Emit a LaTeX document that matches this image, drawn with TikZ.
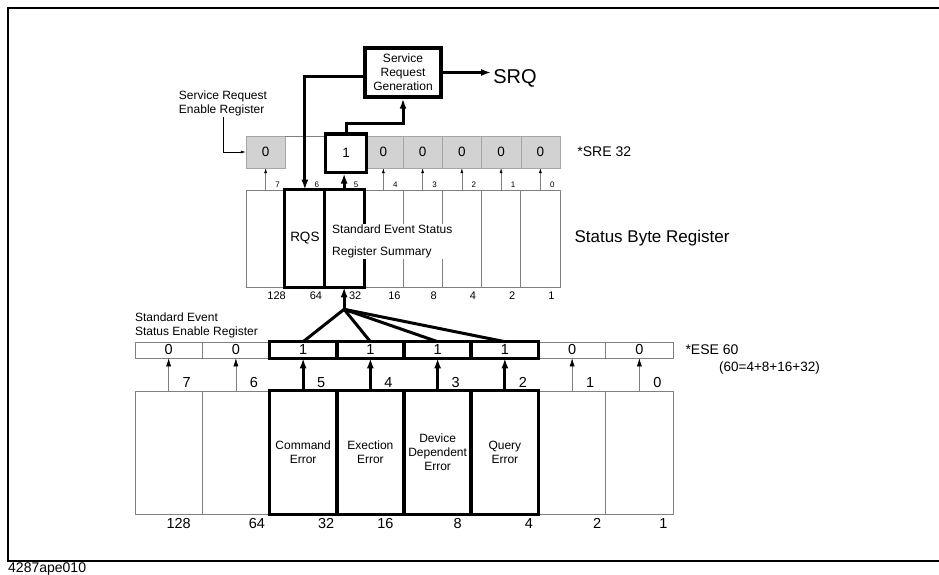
\documentclass[tikz,border=0pt]{standalone}
\usepackage{fontspec}
\setmainfont{Liberation Sans}
\usetikzlibrary{arrows.meta}

\begin{document}
\begin{tikzpicture}[x=1pt,y=-1pt,
    cellline/.style={draw=gray,line width=0.6pt},
    heavy/.style={line width=3pt},
    bigtip/.style={-{Latex[length=10pt,width=7pt]}},
    thintip/.style={-{Latex[length=8pt,width=5pt,color=black]}},
    tinytip/.style={-{Latex[length=5pt,width=3pt,color=black]}},
    lbl/.style={font=\fontsize{12}{14}\selectfont,align=center,inner sep=1pt}]
  \useasboundingbox (0,0) rectangle (939,575);
  % frame
  \draw[line width=1.6pt] (939,8) -- (8,8) -- (8,561) -- (939,561);
  \node[anchor=west,inner sep=0pt,font=\fontsize{14}{14}\selectfont] (figno) at (8,569) {4287ape010};

  % status byte register
  \foreach \b in {7,...,0}{
    \pgfmathsetmacro{\cx}{246+39.25*(7.5-\b)}
    \node[cellline,minimum width=39.25pt,minimum height=97pt,inner sep=0pt] (sb\b) at (\cx,238.5) {};
  }
  \draw[heavy] (sb6.north west) rectangle (sb5.south east);
  \draw[heavy] (sb6.north east) -- (sb6.south east);
  \node[font=\fontsize{13.5}{13.5}\selectfont,inner sep=0pt] (rqs) at (sb6) {RQS};
  \node[lbl,font=\fontsize{12}{22}\selectfont,fill=white,align=left,anchor=west] (sess) at (331,241.5) {Standard Event Status\\Register Summary};
  \foreach \b in {7,...,0}{
    \pgfmathtruncatemacro{\v}{2^\b}
    \node[font=\fontsize{8}{8}\selectfont,inner sep=0pt] (sbb\b) at ([xshift=12pt,yshift=5pt]sb\b.north) {\b};
    \node[font=\fontsize{11}{11}\selectfont,inner sep=0pt] (sbv\b) at ([xshift=11pt,yshift=-8pt]sb\b.south) {\v};
  }
  \node[anchor=west,font=\fontsize{17}{17}\selectfont,inner sep=0pt] (sbname) at ([xshift=14pt]sb0.east) {Status Byte Register};

  % service request enable register
  \foreach \b in {7,4,3,2,1,0}{
    \pgfmathsetmacro{\cx}{246+39.25*(7.5-\b)}
    \node[draw=gray!70,fill=gray!35,minimum width=39.25pt,minimum height=32pt,inner sep=0pt,font=\fontsize{13.5}{13.5}\selectfont] (sre\b) at (\cx,152) {0};
  }
  \draw[cellline] (sre7.north east) -- (sre4.north west);
  \node[draw,heavy,fill=white,minimum width=41pt,minimum height=38pt,inner sep=0pt,font=\fontsize{13.5}{13.5}\selectfont] (sre5) at (346,153) {1};
  \node[lbl,align=left] (srelbl) at (223,103.5) {Service Request\\Enable Register};
  \draw[line width=0.6pt,tinytip] (srelbl.south) |- (sre7.west);
  \node[anchor=west,font=\fontsize{14}{14}\selectfont,inner sep=0pt] (srecmd) at ([xshift=17pt]sre0.east) {*SRE 32};
  \foreach \b in {7,4,3,2,1,0}
    \draw[cellline,tinytip] (sb\b.north) -- (sre\b.south);
  \draw[heavy,bigtip] (sb5.north) -- (sb5.north |- sre5.south);

  % service request generation
  \node[draw,line width=3.5pt,minimum width=76pt,minimum height=49pt,lbl] (srg) at (403,72.5) {Service\\Request\\Generation};
  \node[font=\fontsize{20}{20}\selectfont,inner sep=2pt] (srq) at (515,78) {SRQ};
  \draw[heavy,bigtip] (srg.east) -- (srg.east -| srq.west);
  \draw[heavy,bigtip] ([yshift=-4pt]srg.west) -| (sb6.north);
  \draw[heavy,bigtip] (sre5.north) -- ([yshift=9pt]sre5.north) -| (srg.south);

  % standard event status enable register and event register
  \foreach \b/\v in {7/0,6/0,5/1,4/1,3/1,2/1,1/0,0/0}{
    \pgfmathsetmacro{\cx}{135+67.25*(7.5-\b)}
    \node[cellline,minimum width=67.25pt,minimum height=16pt,inner sep=0pt,font=\fontsize{14.5}{14.5}\selectfont] (ese\b) at (\cx,350) {\v};
    \node[cellline,minimum width=67.25pt,minimum height=123pt,inner sep=0pt] (esr\b) at (\cx,452.5) {};
  }
  \foreach \b in {5,...,2}{
    \draw[heavy] (ese\b.north west) rectangle (ese\b.south east);
    \draw[heavy] (esr\b.north west) rectangle (esr\b.south east);
    \draw[heavy,bigtip] (esr\b.north) -- (ese\b.south);
  }
  \foreach \b in {7,6,1,0}
    \draw[cellline,thintip] (esr\b.north) -- (ese\b.south);
  \node[lbl] (cmderr) at (esr5) {Command\\Error};
  \node[lbl] (exeerr) at (esr4) {Exection\\Error};
  \node[lbl] (deverr) at (esr3) {Device\\Dependent\\Error};
  \node[lbl] (qryerr) at (esr2) {Query\\Error};
  \foreach \b in {7,...,0}
    \node[font=\fontsize{14.5}{14.5}\selectfont,inner sep=0pt] (esrb\b) at ([xshift=18pt,yshift=8pt]esr\b.north) {\b};
  \foreach \b/\dx in {7/10,6/21,5/23,4/15,3/20,2/24,1/25,0/24}{
    \pgfmathtruncatemacro{\v}{2^\b}
    \node[font=\fontsize{14.5}{14.5}\selectfont,inner sep=0pt] (esrv\b) at ([xshift=\dx pt,yshift=-9pt]esr\b.south) {\v};
  }
  \node[lbl,align=left] (eselbl) at (196.5,325.5) {Standard Event\\Status Enable Register};
  \node[anchor=west,font=\fontsize{14}{14}\selectfont,inner sep=0pt] (esecmd) at ([xshift=12pt]ese0.east) {*ESE 60};
  \node[anchor=west,font=\fontsize{13.5}{14}\selectfont,inner sep=0pt] (esesum) at (719,368) {(60=4+8+16+32)};

  % summary fan
  \coordinate (fan) at ([yshift=-22pt]sb5.south);
  \draw[heavy,bigtip] (fan) -- (sb5.south);
  \foreach \b in {5,...,2}
    \draw[heavy] (fan) -- (ese\b.north);
\end{tikzpicture}
\end{document}
